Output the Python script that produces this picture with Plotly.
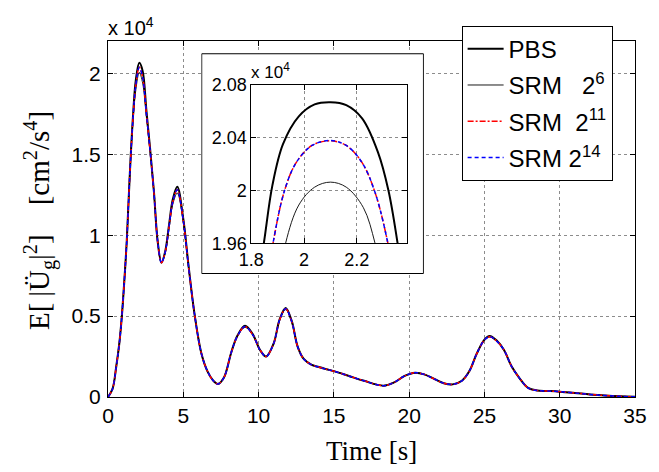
import plotly.graph_objects as go

# ---------------- data (values in units of 10^4 cm^2/s^4) ----------------
time_s = [0, 0.3, 0.55, 0.75, 0.92, 1.1, 1.25, 1.45, 1.65, 1.85, 2.08, 2.3, 2.55, 2.8,
          3.05, 3.3, 3.55, 3.8, 4.05, 4.3, 4.6, 5.0, 5.35, 5.75, 6.2, 6.6, 7.0, 7.3,
          7.7, 8.2, 8.6, 9.1, 9.6, 10.1, 10.5, 11.0, 11.4, 11.8, 12.2, 12.6, 13.0,
          13.5, 14.0, 14.5, 15.0, 16.0, 17.0, 18.3, 19.0, 19.7, 20.4, 21.0, 21.7,
          22.3, 22.9, 23.5, 24.0, 24.5, 25.0, 25.35, 25.8, 26.3, 26.8, 27.3, 27.9,
          28.5, 29.2, 30.0, 31.0, 32.0, 33.0, 34.0, 35.0]
pbs = [0, 0.05, 0.19, 0.33, 0.5, 0.74, 0.97, 1.38, 1.72, 1.96, 2.065, 2.015, 1.77, 1.53,
       1.27, 0.96, 0.83, 0.9, 1.06, 1.22, 1.30, 1.10, 0.81, 0.51, 0.27, 0.16, 0.1, 0.08,
       0.12, 0.28, 0.38, 0.44, 0.39, 0.29, 0.25, 0.33, 0.48, 0.55, 0.47, 0.31, 0.235,
       0.2, 0.185, 0.172, 0.16, 0.13, 0.1, 0.07, 0.09, 0.13, 0.15, 0.14, 0.11,
       0.085, 0.078, 0.1, 0.16, 0.27, 0.355, 0.377, 0.35, 0.29, 0.19, 0.12, 0.056,
       0.04, 0.037, 0.033, 0.025, 0.016, 0.009, 0.004, 0.001]
srm_2_6 = [0, 0.05, 0.19, 0.33, 0.5, 0.74, 0.97, 1.37, 1.69, 1.90, 2.006, 1.94, 1.73, 1.51,
           1.26, 0.96, 0.83, 0.89, 1.04, 1.19, 1.26, 1.08, 0.80, 0.51, 0.27, 0.16, 0.1, 0.08,
           0.12, 0.28, 0.375, 0.43, 0.385, 0.29, 0.25, 0.33, 0.475, 0.54, 0.465, 0.31, 0.235,
           0.2, 0.185, 0.172, 0.16, 0.13, 0.1, 0.07, 0.09, 0.13, 0.15, 0.14, 0.11,
           0.085, 0.078, 0.1, 0.16, 0.27, 0.35, 0.37, 0.345, 0.29, 0.19, 0.12, 0.056,
           0.04, 0.037, 0.033, 0.025, 0.016, 0.009, 0.004, 0.001]
srm_2_11 = [0, 0.05, 0.19, 0.33, 0.5, 0.74, 0.97, 1.375, 1.705, 1.93, 2.0375, 1.975, 1.75, 1.52,
            1.265, 0.96, 0.83, 0.895, 1.05, 1.205, 1.28, 1.09, 0.805, 0.51, 0.27, 0.16, 0.1, 0.08,
            0.12, 0.28, 0.377, 0.435, 0.387, 0.29, 0.25, 0.33, 0.477, 0.545, 0.467, 0.31, 0.235,
            0.2, 0.185, 0.172, 0.16, 0.13, 0.1, 0.07, 0.09, 0.13, 0.15, 0.14, 0.11,
            0.085, 0.078, 0.1, 0.16, 0.27, 0.352, 0.373, 0.347, 0.29, 0.19, 0.12, 0.056,
            0.04, 0.037, 0.033, 0.025, 0.016, 0.009, 0.004, 0.001]
srm_2_14 = [0, 0.05, 0.19, 0.33, 0.5, 0.74, 0.97, 1.375, 1.705, 1.93, 2.0377, 1.975, 1.75, 1.52,
            1.265, 0.96, 0.83, 0.895, 1.05, 1.205, 1.28, 1.09, 0.805, 0.51, 0.27, 0.16, 0.1, 0.08,
            0.12, 0.28, 0.377, 0.435, 0.387, 0.29, 0.25, 0.33, 0.477, 0.545, 0.467, 0.31, 0.235,
            0.2, 0.185, 0.172, 0.16, 0.13, 0.1, 0.07, 0.09, 0.13, 0.15, 0.14, 0.11,
            0.085, 0.078, 0.1, 0.16, 0.27, 0.352, 0.373, 0.347, 0.29, 0.19, 0.12, 0.056,
            0.04, 0.037, 0.033, 0.025, 0.016, 0.009, 0.004, 0.001]

# inset (zoom on the first peak)
inset_t_pbs = [1.82, 1.848, 1.88, 1.92, 1.98, 2.04, 2.1, 2.16, 2.22, 2.28, 2.32, 2.354, 2.38]
inset_pbs = [1.925, 1.961, 2.004, 2.035, 2.056, 2.065, 2.0667, 2.0645, 2.0545, 2.029, 2.0, 1.961, 1.925]
inset_t_srm = [1.86, 1.883, 1.926, 1.97, 2.03, 2.1, 2.16, 2.22, 2.27, 2.317, 2.34]
inset_srm_2_11 = [1.93, 1.961, 2.0, 2.021, 2.034, 2.0375, 2.034, 2.021, 1.998, 1.961, 1.935]
inset_srm_2_14 = [1.93, 1.961, 2.0, 2.021, 2.034, 2.0377, 2.034, 2.021, 1.998, 1.961, 1.935]
inset_t_srm6 = [1.91, 1.931, 1.98, 2.04, 2.1, 2.16, 2.225, 2.268, 2.29]
inset_srm_2_6 = [1.935, 1.961, 1.989, 2.0025, 2.0063, 2.0025, 1.987, 1.961, 1.94]

main_xticks = [0, 5, 10, 15, 20, 25, 30, 35]
main_yticks = [0, 0.5, 1, 1.5, 2]
main_yticklabels = ["0", "0.5", "1", "1.5", "2"]
inset_xticks = [1.8, 2.0, 2.2]
inset_xticklabels = ["1.8", "2", "2.2"]
inset_yticks = [1.96, 2.0, 2.04, 2.08]
inset_yticklabels = ["1.96", "2", "2.04", "2.08"]

series_names = ["PBS", "SRM\u00a0\u00a0\u00a02<sup>6</sup>", "SRM\u00a0\u00a02<sup>11</sup>",
                "SRM\u00a02<sup>14</sup>"]

# ---------------- figure ----------------
SANS = "Liberation Sans, Arial, sans-serif"
SERIF = "Liberation Serif, Times New Roman, serif"

styles = [
    dict(color="black", width=2),
    dict(color="black", width=0.9),
    dict(color="red", width=1.5, dash="6px,2px,2px,2px"),
    dict(color="blue", width=1.5, dash="4px,3px"),
]

fig = go.Figure()
main_vals = [pbs, srm_2_6, srm_2_11, srm_2_14]
for i, (name, vals) in enumerate(zip(series_names, main_vals)):
    fig.add_trace(go.Scatter(x=time_s, y=vals, mode="lines", name=name,
                             line=dict(shape="spline", smoothing=1.0, **styles[i]),
                             legendgroup=str(i), xaxis="x", yaxis="y"))

# placeholder subplot holding the white inset frame
fig.add_trace(go.Scatter(x=[], y=[], xaxis="x2", yaxis="y2", showlegend=False, hoverinfo="skip"))

inset_sets = [(inset_t_pbs, inset_pbs), (inset_t_srm6, inset_srm_2_6),
              (inset_t_srm, inset_srm_2_11), (inset_t_srm, inset_srm_2_14)]
for i, (tt, vv) in enumerate(inset_sets):
    fig.add_trace(go.Scatter(x=tt, y=vv, mode="lines", showlegend=False,
                             line=dict(shape="spline", smoothing=1.0, **styles[i]),
                             xaxis="x3", yaxis="y3"))

grid = dict(showgrid=True, gridcolor="#8c8c8c", griddash="dot", gridwidth=1)
frame = dict(showline=True, linecolor="black", linewidth=1, mirror="ticks",
             ticks="inside", ticklen=5, tickcolor="black", zeroline=False)

fig.update_layout(
    width=659, height=472,
    margin=dict(l=108, r=14, t=41, b=75),
    paper_bgcolor="white", plot_bgcolor="white",
    font=dict(family=SANS, color="black"),
    xaxis=dict(domain=[0, 1], range=[0, 35], tickvals=main_xticks,
               tickfont=dict(size=21, family=SANS), ticklabelstandoff=0, **grid, **frame),
    yaxis=dict(domain=[0, 1], range=[0, 2.2], tickvals=main_yticks, ticktext=main_yticklabels,
               tickfont=dict(size=21, family=SANS), ticklabelstandoff=2, **grid, **frame),
    xaxis2=dict(domain=[0.177, 0.5994], range=[0, 1], visible=False, anchor="y2", fixedrange=True),
    yaxis2=dict(domain=[0.345, 0.966], range=[0, 1], visible=False, anchor="x2", fixedrange=True),
    xaxis3=dict(domain=[0.272, 0.5672], range=[1.8, 2.39], tickvals=inset_xticks,
                ticktext=inset_xticklabels, anchor="y3",
                tickfont=dict(size=18, family=SANS), ticklabelstandoff=0, **grid, **frame),
    yaxis3=dict(domain=[0.4314, 0.8776], range=[1.96, 2.08], tickvals=inset_yticks,
                ticktext=inset_yticklabels, anchor="x3",
                tickfont=dict(size=18, family=SANS), ticklabelstandoff=0, **grid, **frame),
    legend=dict(x=0.671, y=1.043, xanchor="left", yanchor="top",
                bgcolor="white", bordercolor="black", borderwidth=1, itemwidth=36,
                font=dict(size=24, family=SANS), tracegroupgap=2),
    showlegend=True,
)

fig.add_shape(type="rect", xref="x2", yref="y2", x0=0.002, x1=0.998, y0=0.003, y1=0.997,
              fillcolor="white", line=dict(color="black", width=1), layer="below")

fig.add_annotation(text="x 10<sup>4</sup>", xref="paper", yref="paper", x=-0.004, y=1.0,
                   xanchor="left", yanchor="bottom", showarrow=False,
                   font=dict(size=20, family=SANS))
fig.add_annotation(text="x 10<sup>4</sup>", xref="paper", yref="paper", x=0.268, y=0.878,
                   xanchor="left", yanchor="bottom", showarrow=False,
                   font=dict(size=17, family=SANS))
fig.add_annotation(text="Time [s]", xref="paper", yref="paper", x=0.5, y=-0.152,
                   xanchor="center", yanchor="middle", showarrow=False,
                   font=dict(size=27, family=SERIF))
fig.add_annotation(text="E[\u2009|Ü<sub>g</sub>|<sup>2</sup>]\u00a0\u00a0\u00a0\u00a0[cm<sup>2</sup>/s<sup>4</sup>]",
                   xref="paper", yref="paper", x=-0.131, y=0.497, textangle=-90,
                   xanchor="center", yanchor="middle", showarrow=False,
                   font=dict(size=29, family=SERIF))

fig.write_html("out.html", config={"displayModeBar": False},
               post_script="document.body.style.margin='0';")
